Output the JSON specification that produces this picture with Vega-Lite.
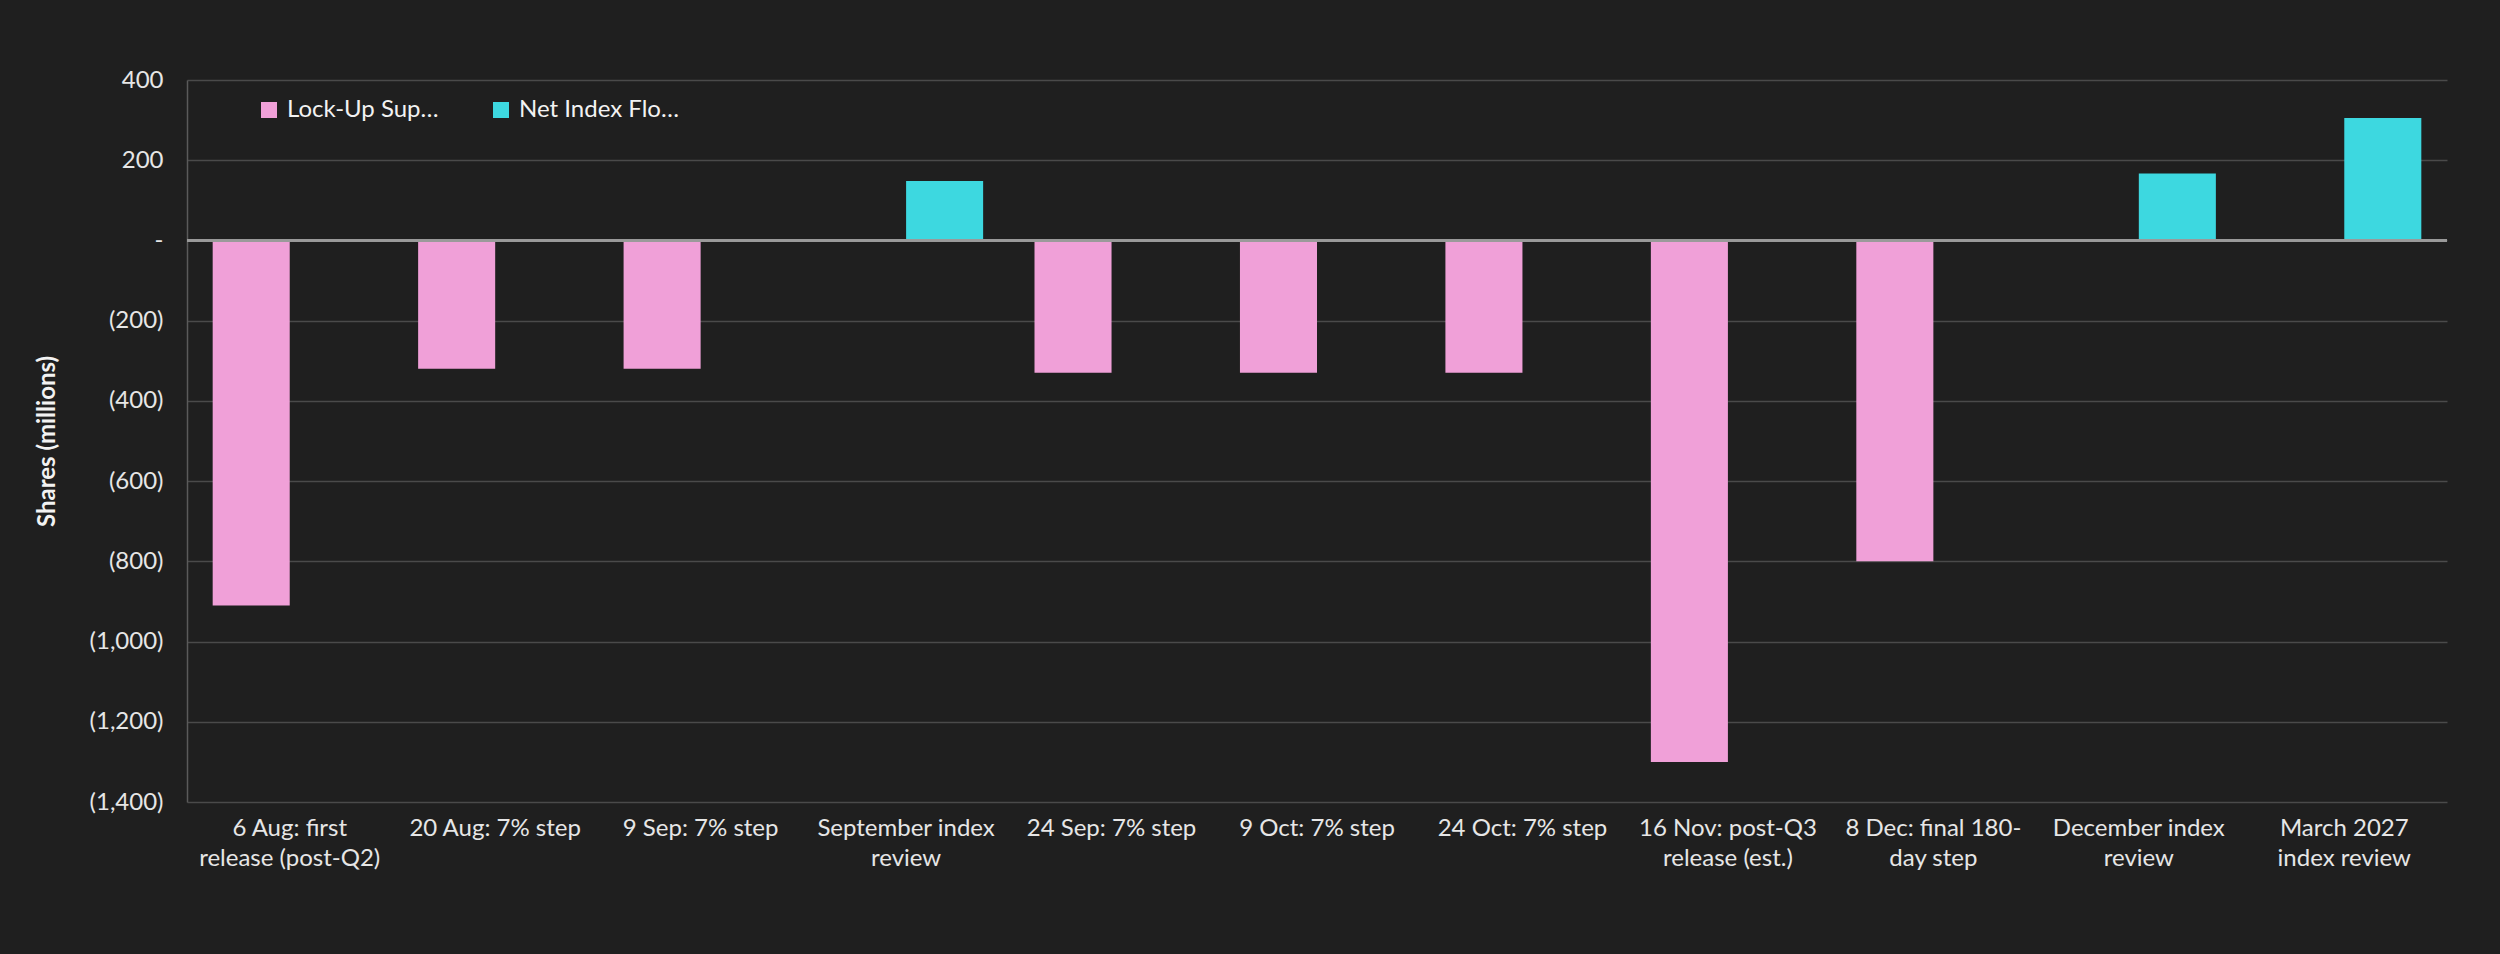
{
  "$schema": "https://vega.github.io/schema/vega-lite/v6.json",
  "autosize": "none",
  "width": 2260,
  "height": 722,
  "padding": {"left": 187, "top": 80, "right": 53, "bottom": 152},
  "background": "#1f1f1f",
  "data": {
    "values": [
      {"event": "6 Aug: first|release (post-Q2)", "series": "Lock-Up Supply (m sh)", "shares": -910},
      {"event": "20 Aug: 7% step", "series": "Lock-Up Supply (m sh)", "shares": -320},
      {"event": "9 Sep: 7% step", "series": "Lock-Up Supply (m sh)", "shares": -320},
      {"event": "September index|review", "series": "Net Index Flow (m sh)", "shares": 148},
      {"event": "24 Sep: 7% step", "series": "Lock-Up Supply (m sh)", "shares": -330},
      {"event": "9 Oct: 7% step", "series": "Lock-Up Supply (m sh)", "shares": -330},
      {"event": "24 Oct: 7% step", "series": "Lock-Up Supply (m sh)", "shares": -330},
      {"event": "16 Nov: post-Q3|release (est.)", "series": "Lock-Up Supply (m sh)", "shares": -1300},
      {"event": "8 Dec: final 180-|day step", "series": "Lock-Up Supply (m sh)", "shares": -800},
      {"event": "December index|review", "series": "Net Index Flow (m sh)", "shares": 167},
      {"event": "March 2027|index review", "series": "Net Index Flow (m sh)", "shares": 305}
    ]
  },
  "layer": [
    {
      "mark": {"type": "bar"},
      "encoding": {
        "x": {
          "field": "event",
          "type": "nominal",
          "sort": null,
          "scale": {"paddingInner": 0.25, "paddingOuter": 0.125},
          "axis": {
            "title": null,
            "labelAngle": 0,
            "labelExpr": "split(datum.label, '|')",
            "labelFontSize": 24,
            "labelColor": "#e6e6e6",
            "labelPadding": 14,
            "labelLineHeight": 30,
            "ticks": false,
            "domain": false,
            "labelLimit": 400
          }
        },
        "xOffset": {
          "field": "series",
          "type": "nominal",
          "scale": {"domain": ["Lock-Up Supply (m sh)", "Net Index Flow (m sh)"], "padding": 0}
        },
        "y": {
          "field": "shares",
          "type": "quantitative",
          "scale": {"domain": [-1400, 400], "nice": false},
          "axis": {
            "title": "Shares (millions)",
            "titleFontSize": 24,
            "titleFontWeight": "bold",
            "titleColor": "#f2f2f2",
            "titlePadding": 30,
            "values": [-1400, -1200, -1000, -800, -600, -400, -200, 0, 200, 400],
            "labelExpr": "datum.value == 0 ? '-' : (datum.value < 0 ? '(' + format(-datum.value, ',') + ')' : format(datum.value, ','))",
            "labelFontSize": 24,
            "labelColor": "#e6e6e6",
            "labelPadding": 24,
            "ticks": false,
            "gridColor": "#4a4a4a",
            "gridWidth": 1.5,
            "domainColor": "#5a5a5a",
            "domainWidth": 1.5
          }
        },
        "color": {
          "field": "series",
          "type": "nominal",
          "scale": {"domain": ["Lock-Up Supply (m sh)", "Net Index Flow (m sh)"], "range": ["#f0a0d8", "#3dd8e0"]},
          "legend": {
            "title": null,
            "orient": "none",
            "legendX": 70,
            "legendY": 18,
            "direction": "horizontal",
            "symbolType": "square",
            "symbolSize": 256,
            "symbolStrokeWidth": 0,
            "labelFontSize": 24,
            "labelColor": "#f2f2f2",
            "columnPadding": 50,
            "labelOffset": 6
          }
        }
      }
    },
    {
      "mark": {"type": "rule", "color": "#9a9a9a", "strokeWidth": 2},
      "encoding": {"y": {"datum": 0, "type": "quantitative"}}
    }
  ],
  "config": {
    "font": "Lato",
    "view": {"stroke": null}
  }
}
